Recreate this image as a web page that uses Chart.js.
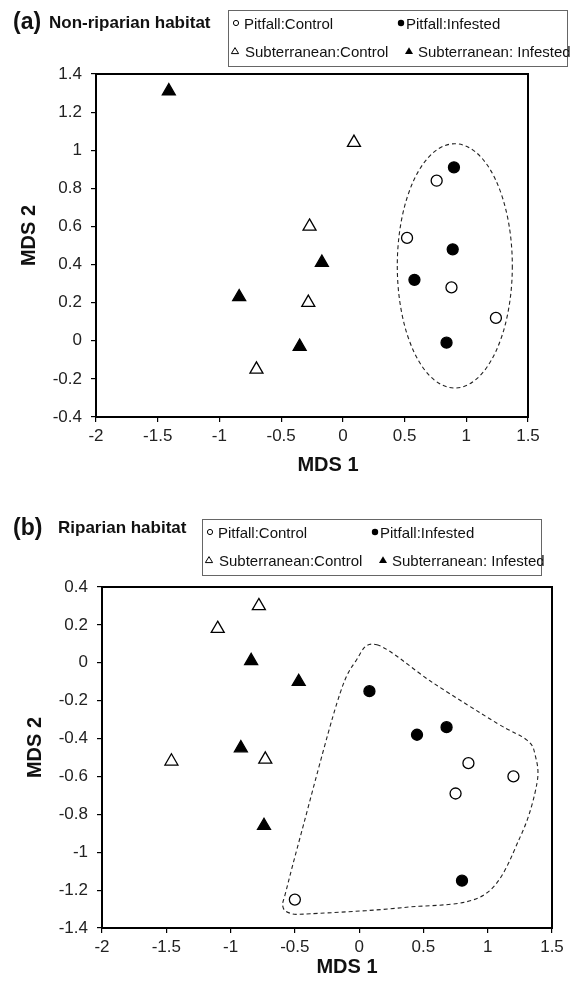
<!DOCTYPE html>
<html>
<head>
<meta charset="utf-8">
<script src="https://cdn.jsdelivr.net/npm/chart.js@4.4.1/dist/chart.umd.min.js"></script>
<style>
    body { margin: 0; background: #fff; }
    #page {
        position: relative; width: 577px; height: 986px; overflow: hidden;
        font-family: "Liberation Sans", Arial, Helvetica, sans-serif; color: #111;
    }
    canvas { position: absolute; left: 0; }
    .tag { position: absolute; font-weight: bold; font-size: 23px; line-height: 1; transform: translateY(-50%); }
    .sub { position: absolute; font-weight: bold; font-size: 17px; line-height: 1; transform: translateY(-50%); }
    .legend { position: absolute; width: 340px; height: 57px; border: 1px solid #666; box-sizing: border-box; background: #fff; }
    .item { position: absolute; font-size: 15px; line-height: 1; white-space: nowrap; transform: translateY(-50%); }
    .mk { position: absolute; width: 10px; height: 10px; }
    .mk svg { display: block; }
</style>
</head>
<body>
<div id="page">
    <canvas id="chart-a" width="577" height="490" style="top:0"></canvas>
    <canvas id="chart-b" width="577" height="496" style="top:490px"></canvas>

    <div class="tag" style="left:13px; top:21px">(a)</div>
    <div class="sub" style="left:49px; top:22px">Non-riparian habitat</div>
    <div class="legend" id="legend-a" style="left:228px; top:10px"></div>

    <div class="tag" style="left:13px; top:527px">(b)</div>
    <div class="sub" style="left:58px; top:527px">Riparian habitat</div>
    <div class="legend" id="legend-b" style="left:202px; top:519px"></div>
</div>

<script>
// Series / axes
const seriesNames = ['Pitfall:Control', 'Pitfall:Infested', 'Subterranean:Control', 'Subterranean: Infested'];
const xTicks = [-2, -1.5, -1, -0.5, 0, 0.5, 1, 1.5];
const yTicksA = [-0.4, -0.2, 0, 0.2, 0.4, 0.6, 0.8, 1, 1.2, 1.4];
const yTicksB = [-1.4, -1.2, -1, -0.8, -0.6, -0.4, -0.2, 0, 0.2, 0.4];

// (a) Non-riparian habitat
const aPitCtrlX = [0.76, 0.52, 0.88, 1.24];
const aPitCtrlY = [0.84, 0.54, 0.28, 0.12];
const aPitInfX = [0.90, 0.89, 0.58, 0.84];
const aPitInfY = [0.91, 0.48, 0.32, -0.01];
const aSubCtrlX = [0.09, -0.27, -0.28, -0.70];
const aSubCtrlY = [1.04, 0.60, 0.20, -0.15];
const aSubInfX = [-1.41, -0.84, -0.17, -0.35];
const aSubInfY = [1.31, 0.23, 0.41, -0.03];
// dashed ellipse round the pitfall group: centre and half axes, data units
const aGroupCentre = [0.907, 0.393];
const aGroupRadii = [0.466, 0.641];

// (b) Riparian habitat
const bPitCtrlX = [0.85, 1.20, 0.75, -0.50];
const bPitCtrlY = [-0.53, -0.60, -0.69, -1.25];
const bPitInfX = [0.08, 0.45, 0.68, 0.80];
const bPitInfY = [-0.15, -0.38, -0.34, -1.15];
const bSubCtrlX = [-0.78, -1.10, -0.73, -1.46];
const bSubCtrlY = [0.30, 0.18, -0.51, -0.52];
const bSubInfX = [-0.84, -0.47, -0.92, -0.74];
const bSubInfY = [0.01, -0.10, -0.45, -0.86];
// dashed outline round the pitfall group
const bGroupX = [0.138, 0.579, 1.072, 1.305, 1.369, 1.383, 1.253, 0.967, 0.345, -0.380, -0.536, -0.594, -0.567, -0.458, -0.173, -0.030];
const bGroupY = [0.095, -0.108, -0.319, -0.408, -0.487, -0.636, -0.919, -1.227, -1.292, -1.325, -1.322, -1.285, -1.201, -0.919, -0.213, 0.005];

const FONT = '"Liberation Sans", Arial, Helvetica, sans-serif';
Chart.defaults.font.family = FONT;
Chart.defaults.color = '#222';

const markerStyles = [
    { pointStyle: 'circle', radius: 5.5, bg: '#fff' },
    { pointStyle: 'circle', radius: 5.5, bg: '#000' },
    { pointStyle: 'triangle', radius: 7.5, bg: '#fff' },
    { pointStyle: 'triangle', radius: 7.5, bg: '#000' }
];

const zip = (xs, ys) => xs.map((x, i) => ({ x: x, y: ys[i] }));

// frame round the plot area
const framePlugin = {
    id: 'frame',
    beforeDatasetsDraw(chart) {
        const { ctx, chartArea: a } = chart;
        ctx.save();
        ctx.strokeStyle = '#000';
        ctx.lineWidth = 2;
        ctx.strokeRect(a.left, a.top, a.right - a.left, a.bottom - a.top);
        ctx.restore();
    }
};

// dashed group outline (ellipse or smooth closed curve)
const groupPlugin = {
    id: 'groupOutline',
    beforeDatasetsDraw(chart, args, opts) {
        const { ctx } = chart;
        const xs = chart.scales.x, ys = chart.scales.y;
        ctx.save();
        ctx.strokeStyle = '#222';
        ctx.lineWidth = 1.1;
        ctx.setLineDash([4, 3]);
        ctx.beginPath();
        if (opts.type === 'ellipse') {
            const cx = xs.getPixelForValue(opts.centre[0]);
            const cy = ys.getPixelForValue(opts.centre[1]);
            const rx = Math.abs(xs.getPixelForValue(opts.centre[0] + opts.radii[0]) - cx);
            const ry = Math.abs(ys.getPixelForValue(opts.centre[1] + opts.radii[1]) - cy);
            ctx.ellipse(cx, cy, rx, ry, 0, 0, Math.PI * 2);
        } else {
            const pts = opts.xs.map((v, i) => [xs.getPixelForValue(v), ys.getPixelForValue(opts.ys[i])]);
            const n = pts.length;
            ctx.moveTo(pts[0][0], pts[0][1]);
            for (let i = 0; i < n; i++) {
                const p0 = pts[(i - 1 + n) % n], p1 = pts[i], p2 = pts[(i + 1) % n], p3 = pts[(i + 2) % n];
                ctx.bezierCurveTo(
                    p1[0] + (p2[0] - p0[0]) / 6, p1[1] + (p2[1] - p0[1]) / 6,
                    p2[0] - (p3[0] - p1[0]) / 6, p2[1] - (p3[1] - p1[1]) / 6,
                    p2[0], p2[1]);
            }
            ctx.closePath();
        }
        ctx.stroke();
        ctx.restore();
    }
};

// axis titles, placed relative to the plot area
const axisTitlePlugin = {
    id: 'axisTitles',
    afterDraw(chart, args, opts) {
        const { ctx, chartArea: a } = chart;
        ctx.save();
        ctx.fillStyle = '#111';
        ctx.font = 'bold 20px ' + FONT;
        ctx.textAlign = 'center';
        ctx.textBaseline = 'middle';
        ctx.fillText(opts.xText, (a.left + a.right) / 2 + opts.xdx, a.bottom + opts.xdy);
        ctx.translate(opts.yx, (a.top + a.bottom) / 2 + opts.ydy);
        ctx.rotate(-Math.PI / 2);
        ctx.fillText(opts.yText, 0, 0);
        ctx.restore();
    }
};

function makeChart(id, series, yTicks, layout, outline, titles) {
    const datasets = series.map((pts, i) => ({
        label: seriesNames[i],
        data: pts,
        pointStyle: markerStyles[i].pointStyle,
        pointRadius: markerStyles[i].radius,
        pointBackgroundColor: markerStyles[i].bg,
        pointBorderColor: '#000',
        pointBorderWidth: 1.3,
        showLine: false
    }));

    const tickFont = { size: 17, family: FONT };

    return new Chart(document.getElementById(id), {
        type: 'scatter',
        data: { datasets: datasets },
        options: {
            responsive: false,
            animation: false,
            events: [],
            layout: { padding: layout.padding },
            scales: {
                x: {
                    type: 'linear',
                    min: xTicks[0],
                    max: xTicks[xTicks.length - 1],
                    afterBuildTicks: s => { s.ticks = xTicks.map(v => ({ value: v })); },
                    afterFit: s => { s.height = layout.xAxisH; },
                    grid: { drawOnChartArea: false, drawTicks: true, tickLength: 5, color: '#000', lineWidth: 1.2 },
                    border: { display: true, color: '#000', width: 2 },
                    ticks: { font: tickFont, color: '#222', padding: 4, maxRotation: 0, autoSkip: false, callback: v => String(v) }
                },
                y: {
                    type: 'linear',
                    min: yTicks[0],
                    max: yTicks[yTicks.length - 1],
                    afterBuildTicks: s => { s.ticks = yTicks.map(v => ({ value: v })); },
                    afterFit: s => { s.width = layout.yAxisW; },
                    grid: { drawOnChartArea: false, drawTicks: true, tickLength: 5, color: '#000', lineWidth: 1.2 },
                    border: { display: true, color: '#000', width: 2 },
                    ticks: { font: tickFont, color: '#222', padding: 9, autoSkip: false, callback: v => String(v) }
                }
            },
            plugins: {
                legend: { display: false },
                tooltip: { enabled: false },
                groupOutline: outline,
                axisTitles: titles
            }
        },
        plugins: [framePlugin, groupPlugin, axisTitlePlugin]
    });
}

// small legend symbols as inline svg
const legendSymbols = [
    '<circle cx="5" cy="5" r="2.6" fill="#fff" stroke="#000" stroke-width="1"/>',
    '<circle cx="5" cy="5" r="3.2" fill="#000"/>',
    '<polygon points="5,1.6 8.6,7.6 1.4,7.6" fill="#fff" stroke="#000" stroke-width="1"/>',
    '<polygon points="5,1.2 9,8 1,8" fill="#000"/>'
];

// boxed two-column legend, same layout for both panels
function makeLegend(id) {
    const box = document.getElementById(id);
    const rows = [11.7, 39.7];
    const items = [
        { mk: 7, tx: 15, row: 0 },
        { mk: 172, tx: 177, row: 0 },
        { mk: 6, tx: 16, row: 1 },
        { mk: 180, tx: 189, row: 1 }
    ];
    items.forEach((it, i) => {
        const y = rows[it.row];
        const m = document.createElement('div');
        m.className = 'mk';
        m.style.left = (it.mk - 5) + 'px';
        m.style.top = (y - 5 + 0.5) + 'px';
        m.innerHTML = '<svg width="10" height="10" viewBox="0 0 10 10">' + legendSymbols[i] + '</svg>';
        box.appendChild(m);
        const t = document.createElement('div');
        t.className = 'item';
        t.style.left = it.tx + 'px';
        t.style.top = y + 'px';
        t.textContent = seriesNames[i];
        box.appendChild(t);
    });
}

makeChart('chart-a',
    [zip(aPitCtrlX, aPitCtrlY), zip(aPitInfX, aPitInfY), zip(aSubCtrlX, aSubCtrlY), zip(aSubInfX, aSubInfY)],
    yTicksA,
    { padding: { top: 74, right: 49, left: 0, bottom: 0 }, yAxisW: 96, xAxisH: 73 },
    { type: 'ellipse', centre: aGroupCentre, radii: aGroupRadii },
    { xText: 'MDS 1', xdx: 16, xdy: 48, yText: 'MDS 2', yx: 29, ydy: -10 });

makeChart('chart-b',
    [zip(bPitCtrlX, bPitCtrlY), zip(bPitInfX, bPitInfY), zip(bSubCtrlX, bSubCtrlY), zip(bSubInfX, bSubInfY)],
    yTicksB,
    { padding: { top: 97, right: 25, left: 0, bottom: 0 }, yAxisW: 102, xAxisH: 58 },
    { type: 'hull', xs: bGroupX, ys: bGroupY },
    { xText: 'MDS 1', xdx: 20, xdy: 39, yText: 'MDS 2', yx: 35, ydy: -10 });

makeLegend('legend-a');
makeLegend('legend-b');
</script>
</body>
</html>
